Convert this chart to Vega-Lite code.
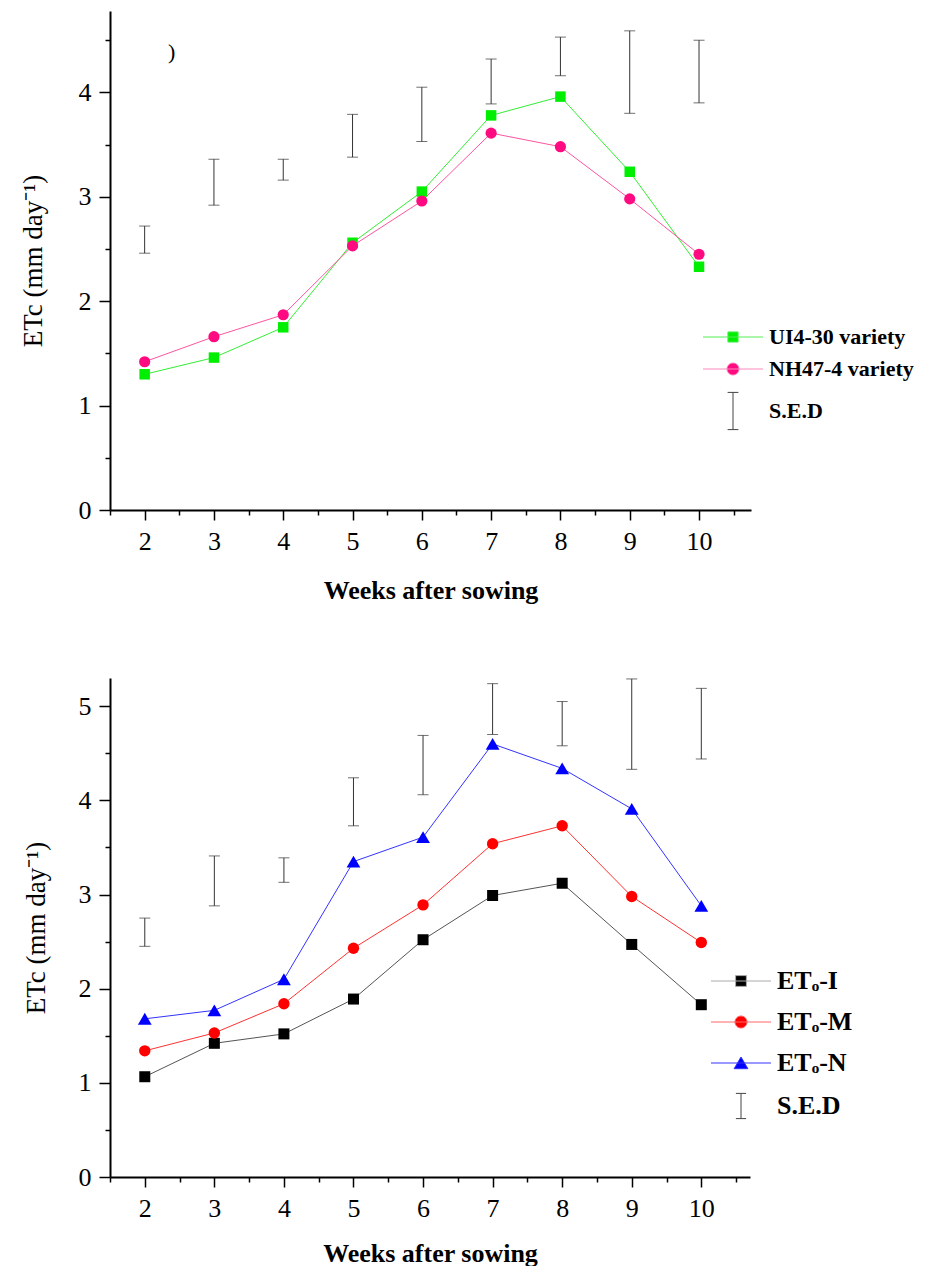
{
  "$schema": "https://vega.github.io/schema/vega-lite/v6.json",
  "background": "white",
  "padding": {"left": 19, "top": 11, "right": 0, "bottom": 0},
  "autosize": {"type": "pad"},
  "datasets": {
    "top": [
      {"week": 2, "series": "UI4-30 variety", "v": 1.30},
      {"week": 3, "series": "UI4-30 variety", "v": 1.46},
      {"week": 4, "series": "UI4-30 variety", "v": 1.75},
      {"week": 5, "series": "UI4-30 variety", "v": 2.56},
      {"week": 6, "series": "UI4-30 variety", "v": 3.05},
      {"week": 7, "series": "UI4-30 variety", "v": 3.78},
      {"week": 8, "series": "UI4-30 variety", "v": 3.96},
      {"week": 9, "series": "UI4-30 variety", "v": 3.24},
      {"week": 10, "series": "UI4-30 variety", "v": 2.33},
      {"week": 2, "series": "NH47-4 variety", "v": 1.42},
      {"week": 3, "series": "NH47-4 variety", "v": 1.66},
      {"week": 4, "series": "NH47-4 variety", "v": 1.87},
      {"week": 5, "series": "NH47-4 variety", "v": 2.53},
      {"week": 6, "series": "NH47-4 variety", "v": 2.96},
      {"week": 7, "series": "NH47-4 variety", "v": 3.61},
      {"week": 8, "series": "NH47-4 variety", "v": 3.48},
      {"week": 9, "series": "NH47-4 variety", "v": 2.98},
      {"week": 10, "series": "NH47-4 variety", "v": 2.45}
    ],
    "sedTop": [
      {"week": 2, "lo": 2.46, "hi": 2.72},
      {"week": 3, "lo": 2.92, "hi": 3.36},
      {"week": 4, "lo": 3.16, "hi": 3.36},
      {"week": 5, "lo": 3.38, "hi": 3.79},
      {"week": 6, "lo": 3.53, "hi": 4.05},
      {"week": 7, "lo": 3.89, "hi": 4.32},
      {"week": 8, "lo": 4.16, "hi": 4.53},
      {"week": 9, "lo": 3.80, "hi": 4.59},
      {"week": 10, "lo": 3.90, "hi": 4.50}
    ],
    "note": [
      {"week": 2.39, "v": 4.39, "t": ")"}
    ],
    "bottom": [
      {"week": 2, "series": "ETₒ-I", "v": 1.065},
      {"week": 3, "series": "ETₒ-I", "v": 1.42},
      {"week": 4, "series": "ETₒ-I", "v": 1.52},
      {"week": 5, "series": "ETₒ-I", "v": 1.89},
      {"week": 6, "series": "ETₒ-I", "v": 2.52},
      {"week": 7, "series": "ETₒ-I", "v": 2.99},
      {"week": 8, "series": "ETₒ-I", "v": 3.12},
      {"week": 9, "series": "ETₒ-I", "v": 2.47},
      {"week": 10, "series": "ETₒ-I", "v": 1.83},
      {"week": 2, "series": "ETₒ-M", "v": 1.34},
      {"week": 3, "series": "ETₒ-M", "v": 1.53},
      {"week": 4, "series": "ETₒ-M", "v": 1.84},
      {"week": 5, "series": "ETₒ-M", "v": 2.43},
      {"week": 6, "series": "ETₒ-M", "v": 2.89},
      {"week": 7, "series": "ETₒ-M", "v": 3.54},
      {"week": 8, "series": "ETₒ-M", "v": 3.73},
      {"week": 9, "series": "ETₒ-M", "v": 2.98},
      {"week": 10, "series": "ETₒ-M", "v": 2.49},
      {"week": 2, "series": "ETₒ-N", "v": 1.68},
      {"week": 3, "series": "ETₒ-N", "v": 1.77},
      {"week": 4, "series": "ETₒ-N", "v": 2.10},
      {"week": 5, "series": "ETₒ-N", "v": 3.35},
      {"week": 6, "series": "ETₒ-N", "v": 3.61},
      {"week": 7, "series": "ETₒ-N", "v": 4.60},
      {"week": 8, "series": "ETₒ-N", "v": 4.34},
      {"week": 9, "series": "ETₒ-N", "v": 3.91},
      {"week": 10, "series": "ETₒ-N", "v": 2.88}
    ],
    "sedBottom": [
      {"week": 2, "lo": 2.45, "hi": 2.75},
      {"week": 3, "lo": 2.88, "hi": 3.41},
      {"week": 4, "lo": 3.13, "hi": 3.39},
      {"week": 5, "lo": 3.73, "hi": 4.24},
      {"week": 6, "lo": 4.06, "hi": 4.69},
      {"week": 7, "lo": 4.70, "hi": 5.24},
      {"week": 8, "lo": 4.58, "hi": 5.05},
      {"week": 9, "lo": 4.33, "hi": 5.29},
      {"week": 10, "lo": 4.44, "hi": 5.19}
    ]
  },
  "vconcat": [
    {
      "width": 641,
      "height": 499,
      "layer": [
        {
          "data": {"name": "sedTop"},
          "mark": {"type": "errorbar", "color": "#333333", "ticks": {"size": 11, "thickness": 1, "color": "#333333"}, "rule": {"strokeWidth": 1, "color": "#333333"}},
          "encoding": {
            "x": {"field": "week", "type": "quantitative", "scale": {"domain": [1.5, 10.75], "nice": false, "zero": false},
              "axis": {"title": "Weeks after sowing", "values": [1.5, 2, 2.5, 3, 3.5, 4, 4.5, 5, 5.5, 6, 6.5, 7, 7.5, 8, 8.5, 9, 9.5, 10, 10.5], "tickCount": 40, "labelExpr": "datum.value % 1 === 0 ? format(datum.value, 'd') : ''", "labelOverlap": false, "tickSize": {"condition": {"test": "datum.value % 1 === 0", "value": 10}, "value": 5}, "labelPadding": 8, "titlePadding": 23}},
            "y": {"field": "lo", "type": "quantitative", "scale": {"domain": [0, 4.78], "nice": false},
              "axis": {"title": "ETc (mm day⁻¹)", "values": [0, 0.5, 1, 1.5, 2, 2.5, 3, 3.5, 4, 4.5], "tickCount": 40, "labelExpr": "datum.value % 1 === 0 ? format(datum.value, 'd') : ''", "labelOverlap": false, "tickSize": {"condition": {"test": "datum.value % 1 === 0", "value": 11}, "value": 5}, "labelPadding": 8, "titlePadding": 31}},
            "y2": {"field": "hi"}
          }
        },
        {
          "data": {"name": "top"},
          "transform": [{"filter": "datum.series === 'UI4-30 variety'"}],
          "mark": {"type": "line", "strokeWidth": 1, "color": "#33ee33"},
          "encoding": {"x": {"field": "week", "type": "quantitative"}, "y": {"field": "v", "type": "quantitative"}}
        },
        {
          "data": {"name": "top"},
          "transform": [{"filter": "datum.series === 'NH47-4 variety'"}],
          "mark": {"type": "line", "strokeWidth": 1, "color": "#ff55a0"},
          "encoding": {"x": {"field": "week", "type": "quantitative"}, "y": {"field": "v", "type": "quantitative"}}
        },
        {
          "data": {"name": "top"},
          "transform": [{"filter": "datum.series === 'UI4-30 variety'"}],
          "mark": {"type": "point", "shape": "square", "filled": true, "opacity": 1, "color": "#00ee00", "size": 110},
          "encoding": {"x": {"field": "week", "type": "quantitative"}, "y": {"field": "v", "type": "quantitative"}}
        },
        {
          "data": {"name": "top"},
          "transform": [{"filter": "datum.series === 'NH47-4 variety'"}],
          "mark": {"type": "point", "shape": "circle", "filled": true, "opacity": 1, "color": "#ff0a80", "size": 125},
          "encoding": {"x": {"field": "week", "type": "quantitative"}, "y": {"field": "v", "type": "quantitative"}}
        },
        {
          "data": {"name": "top"},
          "mark": {"type": "point", "filled": true, "opacity": 0},
          "encoding": {
            "x": {"field": "week", "type": "quantitative"},
            "y": {"field": "v", "type": "quantitative"},
            "color": {"field": "series", "type": "nominal", "scale": {"domain": ["UI4-30 variety", "NH47-4 variety", "S.E.D"], "range": ["#00ee00", "#ff0a80", "#444444"]},
              "legend": {"title": null, "orient": "none", "legendX": 612, "legendY": 315, "padding": 0, "symbolSize": 144, "symbolOpacity": 1, "symbolStrokeWidth": 1, "labelOffset": 25, "rowPadding": 10, "labelFont": "Liberation Serif", "labelFontWeight": "bold", "labelFontSize": 22, "labelColor": "#000000", "labelLimit": 400}},
            "stroke": {"field": "series", "type": "nominal", "scale": {"domain": ["UI4-30 variety", "NH47-4 variety", "S.E.D"], "range": ["#55ee55", "#ff88bb", "#444444"]},
              "legend": {"title": null, "orient": "none", "legendX": 612, "legendY": 315, "padding": 0, "symbolSize": 144, "symbolOpacity": 1, "symbolStrokeWidth": 1, "labelOffset": 25, "rowPadding": 10, "labelFont": "Liberation Serif", "labelFontWeight": "bold", "labelFontSize": 22, "labelColor": "#000000", "labelLimit": 400}},
            "shape": {"field": "series", "type": "nominal", "scale": {"domain": ["UI4-30 variety", "NH47-4 variety", "S.E.D"], "range": ["M-5,0H5M-0.85,-0.85H0.85V0.85H-0.85Z", "M-5,0H5M1,0A1,1,0,1,1,-1,0A1,1,0,1,1,1,0Z", "M0,-3.1V3.1M-0.9,-3.1H0.9M-0.9,3.1H0.9"]},
              "legend": {"title": null, "orient": "none", "legendX": 612, "legendY": 315, "padding": 0, "symbolSize": 144, "symbolOpacity": 1, "symbolStrokeWidth": 1, "labelOffset": 25, "rowPadding": 10, "labelFont": "Liberation Serif", "labelFontWeight": "bold", "labelFontSize": 22, "labelColor": "#000000", "labelLimit": 400}}
          }
        },
        {
          "data": {"name": "note"},
          "mark": {"type": "text", "font": "Liberation Serif", "fontSize": 22, "color": "#000000"},
          "encoding": {
            "x": {"field": "week", "type": "quantitative"},
            "y": {"field": "v", "type": "quantitative"},
            "text": {"field": "t"}
          }
        }
      ]
    },
    {
      "width": 640,
      "height": 499,
      "layer": [
        {
          "data": {"name": "sedBottom"},
          "mark": {"type": "errorbar", "color": "#333333", "ticks": {"size": 11, "thickness": 1, "color": "#333333"}, "rule": {"strokeWidth": 1, "color": "#333333"}},
          "encoding": {
            "x": {"field": "week", "type": "quantitative", "scale": {"domain": [1.5, 10.7], "nice": false, "zero": false},
              "axis": {"title": "Weeks after sowing", "values": [1.5, 2, 2.5, 3, 3.5, 4, 4.5, 5, 5.5, 6, 6.5, 7, 7.5, 8, 8.5, 9, 9.5, 10, 10.5], "tickCount": 40, "labelExpr": "datum.value % 1 === 0 ? format(datum.value, 'd') : ''", "labelOverlap": false, "tickSize": {"condition": {"test": "datum.value % 1 === 0", "value": 10}, "value": 5}, "labelPadding": 8, "titlePadding": 19}},
            "y": {"field": "lo", "type": "quantitative", "scale": {"domain": [0, 5.3], "nice": false},
              "axis": {"title": "ETc (mm day⁻¹)", "values": [0, 0.5, 1, 1.5, 2, 2.5, 3, 3.5, 4, 4.5, 5], "tickCount": 40, "labelExpr": "datum.value % 1 === 0 ? format(datum.value, 'd') : ''", "labelOverlap": false, "tickSize": {"condition": {"test": "datum.value % 1 === 0", "value": 11}, "value": 5}, "labelPadding": 8, "titlePadding": 28}},
            "y2": {"field": "hi"}
          }
        },
        {
          "data": {"name": "bottom"},
          "transform": [{"filter": "datum.series === 'ETₒ-I'"}],
          "mark": {"type": "line", "strokeWidth": 1, "color": "#555555"},
          "encoding": {"x": {"field": "week", "type": "quantitative"}, "y": {"field": "v", "type": "quantitative"}}
        },
        {
          "data": {"name": "bottom"},
          "transform": [{"filter": "datum.series === 'ETₒ-M'"}],
          "mark": {"type": "line", "strokeWidth": 1, "color": "#ff3333"},
          "encoding": {"x": {"field": "week", "type": "quantitative"}, "y": {"field": "v", "type": "quantitative"}}
        },
        {
          "data": {"name": "bottom"},
          "transform": [{"filter": "datum.series === 'ETₒ-N'"}],
          "mark": {"type": "line", "strokeWidth": 1, "color": "#3333ff"},
          "encoding": {"x": {"field": "week", "type": "quantitative"}, "y": {"field": "v", "type": "quantitative"}}
        },
        {
          "data": {"name": "bottom"},
          "transform": [{"filter": "datum.series === 'ETₒ-I'"}],
          "mark": {"type": "point", "shape": "square", "filled": true, "opacity": 1, "color": "#000000", "size": 121},
          "encoding": {"x": {"field": "week", "type": "quantitative"}, "y": {"field": "v", "type": "quantitative"}}
        },
        {
          "data": {"name": "bottom"},
          "transform": [{"filter": "datum.series === 'ETₒ-M'"}],
          "mark": {"type": "point", "shape": "circle", "filled": true, "opacity": 1, "color": "#ff0000", "size": 130},
          "encoding": {"x": {"field": "week", "type": "quantitative"}, "y": {"field": "v", "type": "quantitative"}}
        },
        {
          "data": {"name": "bottom"},
          "transform": [{"filter": "datum.series === 'ETₒ-N'"}],
          "mark": {"type": "point", "shape": "triangle-up", "filled": true, "opacity": 1, "color": "#0000ff", "size": 190},
          "encoding": {"x": {"field": "week", "type": "quantitative"}, "y": {"field": "v", "type": "quantitative"}}
        },
        {
          "data": {"name": "bottom"},
          "mark": {"type": "point", "filled": true, "opacity": 0},
          "encoding": {
            "x": {"field": "week", "type": "quantitative"},
            "y": {"field": "v", "type": "quantitative"},
            "color": {"field": "series", "type": "nominal", "scale": {"domain": ["ETₒ-I", "ETₒ-M", "ETₒ-N", "S.E.D"], "range": ["#000000", "#ff0000", "#0000ff", "#444444"]},
              "legend": {"title": null, "orient": "none", "legendX": 618, "legendY": 290, "padding": 0, "symbolSize": 144, "symbolOpacity": 1, "symbolStrokeWidth": 1, "labelOffset": 23, "rowPadding": 15, "labelFont": "Liberation Serif", "labelFontWeight": "bold", "labelFontSize": 26, "labelColor": "#000000", "labelLimit": 400}},
            "stroke": {"field": "series", "type": "nominal", "scale": {"domain": ["ETₒ-I", "ETₒ-M", "ETₒ-N", "S.E.D"], "range": ["#aaaaaa", "#ff6666", "#3333ff", "#444444"]},
              "legend": {"title": null, "orient": "none", "legendX": 618, "legendY": 290, "padding": 0, "symbolSize": 144, "symbolOpacity": 1, "symbolStrokeWidth": 1, "labelOffset": 23, "rowPadding": 15, "labelFont": "Liberation Serif", "labelFontWeight": "bold", "labelFontSize": 26, "labelColor": "#000000", "labelLimit": 400}},
            "shape": {"field": "series", "type": "nominal", "scale": {"domain": ["ETₒ-I", "ETₒ-M", "ETₒ-N", "S.E.D"], "range": ["M-5,0H5M-0.9,-0.9H0.9V0.9H-0.9Z", "M-5,0H5M1,0A1,1,0,1,1,-1,0A1,1,0,1,1,1,0Z", "M-5,0H5M0,-1L1.15,0.95H-1.15Z", "M0,-2.1V2.1M-0.85,-2.1H0.85M-0.85,2.1H0.85"]},
              "legend": {"title": null, "orient": "none", "legendX": 618, "legendY": 290, "padding": 0, "symbolSize": 144, "symbolOpacity": 1, "symbolStrokeWidth": 1, "labelOffset": 23, "rowPadding": 15, "labelFont": "Liberation Serif", "labelFontWeight": "bold", "labelFontSize": 26, "labelColor": "#000000", "labelLimit": 400}}
          }
        }
      ]
    }
  ],
  "spacing": 75,
  "resolve": {
    "scale": {"x": "independent", "y": "independent", "color": "independent", "stroke": "independent", "shape": "independent"},
    "legend": {"color": "independent", "stroke": "independent", "shape": "independent"},
    "axis": {"x": "independent", "y": "independent"}
  },
  "config": {
    "view": {"stroke": null},
    "axis": {
      "grid": false,
      "domainColor": "#000000",
      "domainWidth": 2,
      "tickColor": "#000000",
      "tickWidth": 1.5,
      "labelFont": "Liberation Serif",
      "labelFontSize": 26,
      "labelColor": "#000000",
      "labelFlush": false,
      "labelOverlap": false,
      "titleFont": "Liberation Serif",
      "titleColor": "#000000",
      "titleFontSize": 27,
      "titleFontWeight": "normal"
    },
    "axisX": {"titleFontWeight": "bold", "titleFontSize": 26}
  }
}
